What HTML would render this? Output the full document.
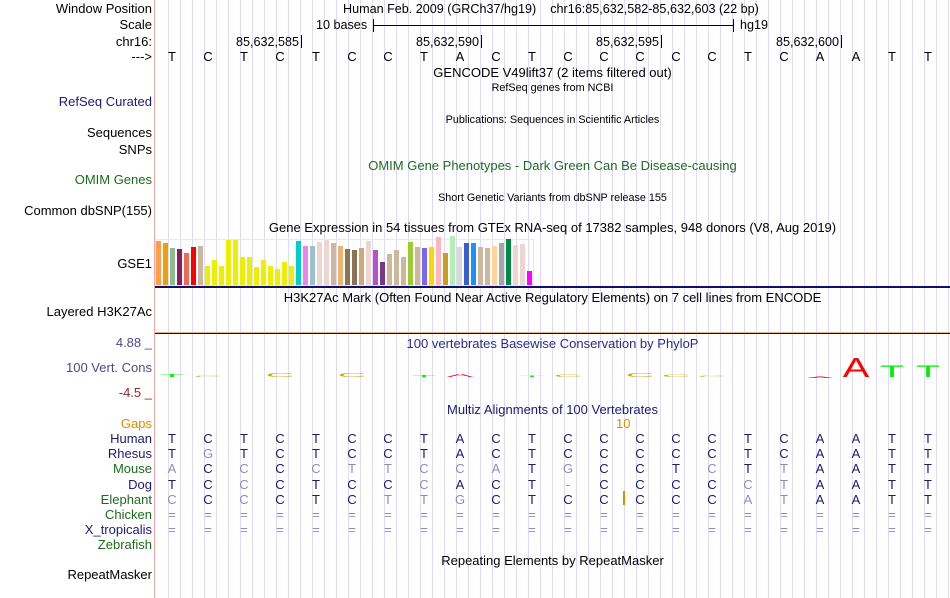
<!DOCTYPE html>
<html><head><meta charset="utf-8">
<style>
body{margin:0;background:#fff;font-family:"Liberation Sans",sans-serif;}
#root{position:relative;width:950px;height:598px;overflow:hidden;background:#fff;}
.t{position:absolute;white-space:nowrap;font-size:13px;line-height:14px;color:#000;}
.c{left:155px;width:795px;text-align:center;}
.lab{position:absolute;right:798px;white-space:nowrap;font-size:13px;line-height:14px;text-align:right;}
.sm{font-size:10.8px;}
.ln{position:absolute;}
</style></head>
<body>
<div id="root">
<svg id="grid" width="950" height="598" style="position:absolute;left:0;top:0"></svg>
<div class="ln" style="left:154px;top:0;width:1px;height:598px;background:#f4a8a8"></div>

<div class="lab" style="top:2px">Window Position</div>
<div class="lab" style="top:18px">Scale</div>
<div class="lab" style="top:35px">chr16:</div>
<div class="lab" style="top:50px">---&gt;</div>
<div class="lab" style="top:95px;color:#1a1a7a">RefSeq Curated</div>
<div class="lab" style="top:126px">Sequences</div>
<div class="lab" style="top:143px">SNPs</div>
<div class="lab" style="top:173px;color:#1d6b1d">OMIM Genes</div>
<div class="lab" style="top:204px">Common dbSNP(155)</div>
<div class="lab" style="top:257px">GSE1</div>
<div class="lab" style="top:305px">Layered H3K27Ac</div>
<div class="lab" style="top:336px;color:#4a4a8a">4.88 _</div>
<div class="lab" style="top:361px;color:#4a4a8a">100 Vert. Cons</div>
<div class="lab" style="top:386px;color:#8b2a2a">-4.5 _</div>
<div class="lab" style="top:417px;color:#e08a00">Gaps</div>
<div id="species-labels"></div>
<div class="lab" style="top:568px">RepeatMasker</div>

<div class="t" style="left:343px;top:2px;font-size:12.6px">Human Feb. 2009 (GRCh37/hg19)&nbsp;&nbsp;&nbsp; chr16:85,632,582-85,632,603 (22 bp)</div>
<div class="t" style="left:316px;top:18px;font-size:12.6px">10 bases</div>
<div class="ln" style="left:373px;top:25px;width:361px;height:1px;background:#000"></div>
<div class="ln" style="left:373px;top:19px;width:1px;height:13px;background:#000"></div>
<div class="ln" style="left:733px;top:19px;width:1px;height:13px;background:#000"></div>
<div class="t" style="left:740px;top:18px;font-size:12.6px">hg19</div>
<div id="ruler"></div>
<div id="bases"></div>

<div class="t c" style="top:66px">GENCODE V49lift37 (2 items filtered out)</div>
<div class="t c sm" style="top:81px">RefSeq genes from NCBI</div>
<div class="t c sm" style="top:113px">Publications: Sequences in Scientific Articles</div>
<div class="t c" style="top:159px;color:#1d6b1d">OMIM Gene Phenotypes - Dark Green Can Be Disease-causing</div>
<div class="t c sm" style="top:191px">Short Genetic Variants from dbSNP release 155</div>
<div class="t c" style="top:221px">Gene Expression in 54 tissues from GTEx RNA-seq of 17382 samples, 948 donors (V8, Aug 2019)</div>
<svg id="gtex" width="950" height="598" style="position:absolute;left:0;top:0"></svg>
<div class="ln" style="left:155px;top:286px;width:795px;height:2px;background:#10106b"></div>
<div class="t c" style="top:291px">H3K27Ac Mark (Often Found Near Active Regulatory Elements) on 7 cell lines from ENCODE</div>
<div class="ln" style="left:155px;top:332px;width:795px;height:1px;background:#e0b888"></div>
<div class="ln" style="left:155px;top:333px;width:795px;height:1px;background:#111"></div>
<div class="t c" style="top:337px;color:#2a2a8a">100 vertebrates Basewise Conservation by PhyloP</div>
<svg id="phylop" width="950" height="598" style="position:absolute;left:0;top:0"></svg>
<div class="t c" style="top:403px;color:#1a1a7a">Multiz Alignments of 100 Vertebrates</div>
<div class="t" style="left:616px;top:417px;color:#e08a00">10</div>
<div class="ln" style="left:623px;top:491px;width:2px;height:14px;background:#e08a00"></div>
<div id="align"></div>
<div class="t c" style="top:554px">Repeating Elements by RepeatMasker</div>
</div>
<script>
const refBases = ["T","C","T","C","T","C","C","T","A","C","T","C","C","C","C","C","T","C","A","A","T","T"];
const rulerLabels = ["85,632,585","85,632,590","85,632,595","85,632,600"];
const rulerIndex = [3,8,13,18];
const speciesNames = ["Human","Rhesus","Mouse","Dog","Elephant","Chicken","X_tropicalis","Zebrafish"];
const speciesColors = ["#1a1a7a","#1a1a7a","#1d6b1d","#1a1a7a","#1d6b1d","#1d6b1d","#1a1a7a","#1d6b1d"];
const alignRows = [
 "TCTCTCCTACTCCCCCTCAATT",
 "TGTCTCCTACTCCCCCTCAATT",
 "ACCCCTTCCATGCCTCTTAATT",
 "TCCCTCCCACT-CCCCCTAATT",
 "CCCCTCTTGCTCCCCCATAATT",
 "======================",
 "======================",
 ""];
const alignLight = [
 "0000000000000000000000",
 "0100000000000000000000",
 "1010111111010001010000",
 "0010000100010000110000",
 "1010001110000000110000",
 "1111111111111111111111",
 "1111111111111111111111",
 ""];
const gtexValues = [44,42,37,36,32,38,39,19,25,19,45,45,28,28,18,25,19,16,23,19,44,39,39,43,45,42,39,36,35,37,44,35,23,31,35,28,43,38,37,38,48,32,49,38,42,42,38,37,39,42,46,40,41,14];
const gtexColors = ["#FF9F4C","#EF9D0A","#8FBC8F","#8B1C62","#EE6A50","#FF0000","#CDB79E","#EEEE00","#EEEE00","#EEEE00","#EEEE00","#EEEE00","#EEEE00","#EEEE00","#EEEE00","#EEEE00","#EEEE00","#EEEE00","#EEEE00","#EEEE00","#00CDCD","#EE82EE","#9AC0CD","#EED5D2","#EED5D2","#CDB79E","#EEB36E","#8B7355","#8B7355","#CDAA7D","#EED5D2","#B452CD","#7A378B","#CDB79E","#CDB79E","#CDB79E","#9ACD32","#CDB79E","#7A67EE","#FFD700","#FFB6C1","#CD9B1D","#B4EEB4","#D9D9D9","#3A5FCD","#1E90FF","#CDB79E","#CDB79E","#FFD39B","#A6A6A6","#008B45","#EED5D2","#EED5D2","#FF00FF"];
const phylopScores = [0.35,0.15,0,0.45,0,0.45,0,0.2,0.35,0,0.1,0.3,0,0.45,0.3,0.1,0,0,-0.1,2.2,1.3,1.3];

const X0=172, STEP=36;
function baseX(i){return X0+i*STEP;}
const svgNS="http://www.w3.org/2000/svg";
const grid=document.getElementById('grid');
for(let x=168;x<950;x+=12){
 const l=document.createElementNS(svgNS,'line');
 l.setAttribute('x1',x+0.5);l.setAttribute('x2',x+0.5);l.setAttribute('y1',0);l.setAttribute('y2',598);
 l.setAttribute('stroke','#dcdcf4');l.setAttribute('stroke-width','1');
 
 
 grid.appendChild(l);
}
function addText(parent,txt,left,top,color,name){
 const d=document.createElement('div');d.className='t';d.textContent=txt;
 d.style.left=left+'px';d.style.top=top+'px';if(color)d.style.color=color;
 
 
 parent.appendChild(d);return d;
}
const bases=document.getElementById('bases');
refBases.forEach((b,i)=>{const d=addText(bases,b,baseX(i)-5,50,null,'reference-base');d.style.width='10px';d.style.textAlign='center';});
const ruler=document.getElementById('ruler');
rulerLabels.forEach((s,k)=>{
 const tx=baseX(rulerIndex[k])+21;
 const d=addText(ruler,s,tx-78,35,null,'ruler-label');d.style.width='76px';d.style.textAlign='right';d.style.fontSize='12.6px';
 const t=document.createElement('div');t.className='ln';t.style.left=tx+'px';t.style.top='35px';t.style.width='1px';t.style.height='13px';t.style.background='#000';
 
 
 ruler.appendChild(t);
});
const sl=document.getElementById('species-labels');
speciesNames.forEach((n,r)=>{
 const d=document.createElement('div');d.className='lab';d.textContent=n;d.style.top=(432+r*15.2)+'px';d.style.color=speciesColors[r];
 
 
 sl.appendChild(d);
});
const al=document.getElementById('align');
alignRows.forEach((row,r)=>{
 for(let i=0;i<row.length;i++){
  const light=alignLight[r][i]==='1';
  const d=addText(al,row[i],baseX(i)-5,432+r*15.2,light?'#8c8cbc':'#1a1a6e','aligned-base');
  d.style.width='10px';d.style.textAlign='center';
 }
});
// GTEx
const g=document.getElementById('gtex');
const frame=document.createElementNS(svgNS,'rect');
frame.setAttribute('x',155.5);frame.setAttribute('y',239.5);frame.setAttribute('width',378);frame.setAttribute('height',46);
frame.setAttribute('fill','none');frame.setAttribute('stroke','#e8e8e8');


g.appendChild(frame);
const gBase=285, gScale=1;
gtexValues.forEach((v,i)=>{
 const h=v*gScale;
 const r=document.createElementNS(svgNS,'rect');
 r.setAttribute('x',156+i*7);r.setAttribute('y',gBase-h);r.setAttribute('width',5);r.setAttribute('height',h);
 r.setAttribute('fill',gtexColors[i]);
 
 
 g.appendChild(r);
});
// PhyloP
const p=document.getElementById('phylop');
const pBase=377, pScale=9;
const baseCol={A:'#ff0000',C:'#b8b800',G:'#b8b800',T:'#00ee00'};
const FS=14;
phylopScores.forEach((v,i)=>{
 if(v===0)return;
 const b=refBases[i];
 const cx=baseX(i);
 const h=Math.max(Math.abs(v)*pScale,1);
 const t=document.createElementNS(svgNS,'text');
 t.setAttribute('x',0);t.setAttribute('y',0);t.setAttribute('text-anchor','middle');
 t.setAttribute('font-family','Liberation Sans, sans-serif');
 t.setAttribute('font-size',FS);t.setAttribute('fill',baseCol[b]);
 const sx=27/(0.68*FS), sy=h/(0.72*FS);
 const ty = v>0 ? pBase : pBase+h;
 t.setAttribute('transform',`translate(${cx},${ty}) scale(${sx},${sy})`);
 t.textContent=b;
 
 
 p.appendChild(t);
});
</script>
</body></html>
